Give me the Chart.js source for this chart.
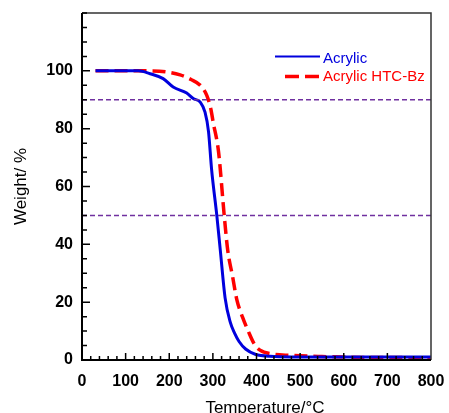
<!DOCTYPE html>
<html lang="en">
<head>
    <meta charset="UTF-8">
    <title>TGA - Acrylic vs Acrylic HTC-Bz</title>
    <style>
        body, html {
            margin: 0;
            padding: 0;
            background-color: #ffffff;
        }
        canvas {
            display: block;
        }
    </style>
</head>
<body>
    <canvas id="tgaChart" width="449" height="413"></canvas>

    <script src="https://cdn.jsdelivr.net/npm/chart.js"></script>
    <script>
        // values
        const acrylicTemp = [31, 129, 156, 186, 209, 240, 255, 271, 282, 290, 297, 309, 317, 328, 340, 350, 360, 375, 397, 430, 550, 650, 800];
        const acrylicWeight = [100, 100, 99, 97.3, 94.4, 92.3, 90.4, 89.2, 85.7, 79, 66, 50, 38, 21.5, 13, 9.2, 6.4, 3.8, 2.0, 1.3, 1.0, 1.0, 1.0];

        const htcTemp = [31, 148, 194, 225, 250, 271, 286, 295, 301, 313, 326, 334, 345, 355, 368, 381, 395, 408, 435, 477, 550, 650, 800];
        const htcWeight = [100, 100, 99.6, 98.6, 97, 95, 91.5, 87, 82, 72, 50, 38, 29, 20.8, 14.8, 10, 5.5, 3.4, 2.1, 1.6, 1.2, 0.9, 0.8];

        const guideLevels = [90, 50];
        const tempRange = [0, 800];
        const weightRange = [0, 120];
        const weightLabels = [0, 20, 40, 60, 80, 100];

        const seriesNames = ['Acrylic', 'Acrylic HTC-Bz'];
        const fontFamily = '"Liberation Sans", Arial, sans-serif';

        function toPoints(xs, ys) {
            return xs.map((x, i) => ({ x: x, y: ys[i] }));
        }

        const guideSets = guideLevels.map(level => ({
            data: toPoints(tempRange, [level, level]),
            borderColor: '#7030a0',
            borderWidth: 1.5,
            borderDash: [5, 3],
            pointRadius: 0,
            clip: false
        }));

        // inward ticks, frame, axis titles and the legend box
        const decorations = {
            id: 'decorations',
            afterDraw(chart) {
                const ctx = chart.ctx;
                const area = chart.chartArea;
                const xs = chart.scales.x;
                const ys = chart.scales.y;
                ctx.save();

                // frame
                ctx.strokeStyle = '#333';
                ctx.lineWidth = 1.5;
                ctx.beginPath();
                ctx.moveTo(area.left, area.top);
                ctx.lineTo(area.right, area.top);
                ctx.lineTo(area.right, area.bottom);
                ctx.stroke();
                ctx.strokeStyle = '#000';
                ctx.lineWidth = 2;
                ctx.beginPath();
                ctx.moveTo(area.left, area.top);
                ctx.lineTo(area.left, area.bottom);
                ctx.lineTo(area.right, area.bottom);
                ctx.stroke();

                // y ticks every 5, longer every 20
                ctx.lineWidth = 1.5;
                ctx.beginPath();
                for (let v = weightRange[0]; v <= weightRange[1]; v += 5) {
                    const py = ys.getPixelForValue(v);
                    const len = v % 20 === 0 && v <= 100 ? 8 : 5;
                    ctx.moveTo(area.left, py);
                    ctx.lineTo(area.left + len, py);
                }
                // x ticks every 20, longer every 100
                for (let v = tempRange[0] + 20; v < tempRange[1]; v += 20) {
                    const px = xs.getPixelForValue(v);
                    const len = v % 100 === 0 ? 7 : 4;
                    ctx.moveTo(px, area.bottom);
                    ctx.lineTo(px, area.bottom - len);
                }
                ctx.stroke();

                // axis titles
                ctx.fillStyle = '#000';
                ctx.font = '17px ' + fontFamily;
                ctx.textAlign = 'center';
                ctx.textBaseline = 'middle';
                ctx.fillText('Temperature/\u00b0C', 265, 408);
                ctx.save();
                ctx.translate(21, (area.top + area.bottom) / 2);
                ctx.rotate(-Math.PI / 2);
                ctx.fillText('Weight/ %', 0, 0);
                ctx.restore();

                // legend
                ctx.font = '15px ' + fontFamily;
                ctx.textAlign = 'left';
                ctx.lineWidth = 2;
                ctx.strokeStyle = '#0000dd';
                ctx.beginPath();
                ctx.moveTo(275, 56.5);
                ctx.lineTo(320, 56.5);
                ctx.stroke();
                ctx.fillStyle = '#0000dd';
                ctx.fillText(seriesNames[0], 323, 59);

                ctx.strokeStyle = '#ff0000';
                ctx.lineWidth = 3.5;
                ctx.setLineDash([14, 6]);
                ctx.beginPath();
                ctx.moveTo(285, 76.5);
                ctx.lineTo(320, 76.5);
                ctx.stroke();
                ctx.setLineDash([]);
                ctx.fillStyle = '#ff0000';
                ctx.fillText(seriesNames[1], 323, 77);

                ctx.restore();
            }
        };

        new Chart(document.getElementById('tgaChart').getContext('2d'), {
            type: 'line',
            data: {
                datasets: [
                    ...guideSets,
                    {
                        label: seriesNames[0],
                        data: toPoints(acrylicTemp, acrylicWeight),
                        borderColor: '#0000dd',
                        borderWidth: 3,
                        pointRadius: 0,
                        cubicInterpolationMode: 'monotone'
                    },
                    {
                        label: seriesNames[1],
                        data: toPoints(htcTemp, htcWeight),
                        borderColor: '#ff0000',
                        borderWidth: 3.5,
                        borderDash: [13, 6],
                        pointRadius: 0,
                        cubicInterpolationMode: 'monotone'
                    }
                ]
            },
            options: {
                responsive: false,
                animation: false,
                layout: {
                    padding: { top: 13, right: 18, left: 0, bottom: 0 }
                },
                plugins: {
                    legend: { display: false },
                    tooltip: { enabled: false }
                },
                scales: {
                    x: {
                        type: 'linear',
                        min: tempRange[0],
                        max: tempRange[1],
                        grid: { display: false, drawTicks: false },
                        border: { display: false },
                        ticks: {
                            stepSize: 100,
                            padding: 12,
                            color: '#000',
                            maxRotation: 0,
                            font: { family: fontFamily, size: 16, weight: 'bold' }
                        },
                        afterFit(scale) {
                            scale.height = 53;
                            scale.paddingLeft = 0;
                            scale.paddingRight = 0;
                        }
                    },
                    y: {
                        min: weightRange[0],
                        max: weightRange[1],
                        grid: { display: false, drawTicks: false },
                        border: { display: false },
                        ticks: {
                            stepSize: 20,
                            padding: 9,
                            color: '#000',
                            font: { family: fontFamily, size: 16, weight: 'bold' },
                            callback: v => weightLabels.includes(v) ? v : ''
                        },
                        afterFit(scale) {
                            scale.width = 82;
                            scale.paddingTop = 0;
                            scale.paddingBottom = 0;
                        }
                    }
                }
            },
            plugins: [decorations]
        });
    </script>
</body>
</html>
